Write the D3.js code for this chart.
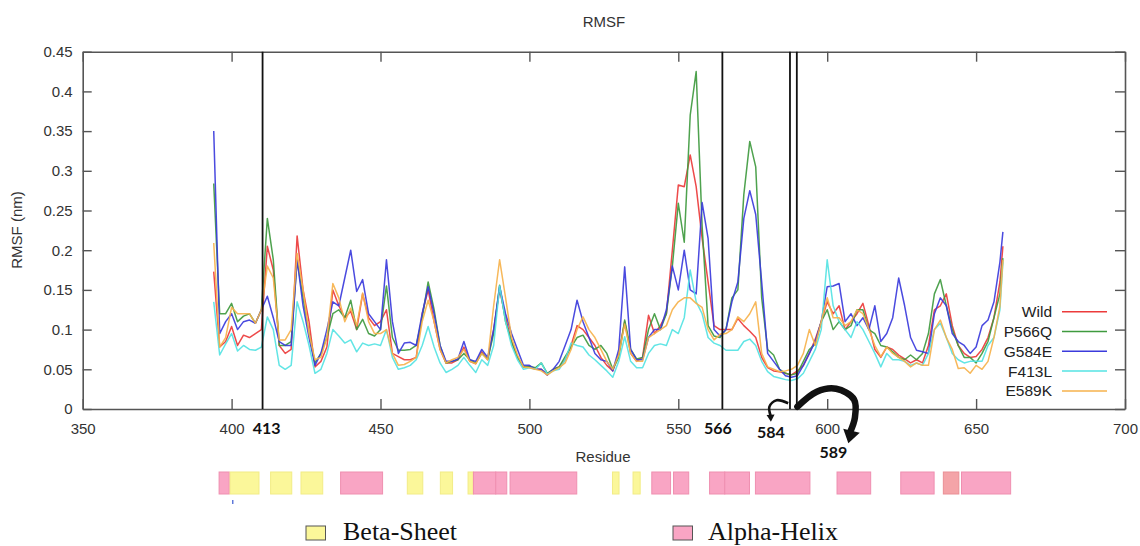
<!DOCTYPE html>
<html>
<head>
<meta charset="utf-8">
<script src="https://cdn.jsdelivr.net/npm/d3@7/dist/d3.min.js"></script>
<style>
  html, body { margin: 0; padding: 0; background: #fff; }
  svg { display: block; }
</style>
</head>
<body>
<svg id="chart" width="1140" height="546"></svg>
<script>
// ---------------- DATA ----------------
const residues = [
  394,396,398,400,402,404,406,408,410,412,
  414,416,418,420,422,424,426,428,430,432,
  434,436,438,440,442,444,446,448,450,452,
  454,456,458,460,462,464,466,468,470,472,
  474,476,478,480,482,484,486,488,490,492,
  494,496,498,500,502,504,506,508,510,512,
  514,516,518,520,522,524,526,528,530,532,
  534,536,538,540,542,544,546,548,550,552,
  554,556,558,560,562,564,566,568,570,572,
  574,576,578,580,582,584,586,588,590,592,
  594,596,598,600,602,604,606,608,610,612,
  614,616,618,620,622,624,626,628,630,632,
  634,636,638,640,642,644,646,648,650,652,
  654,656,658,659];

const seriesNames = ["Wild", "P566Q", "G584E", "F413L", "E589K"];
const seriesColors = ["#ec3b3b", "#3f9a3f", "#3b3bdc", "#55e3e3", "#f6b24c"];

const wild = [
  0.173,0.078,0.085,0.104,0.080,0.093,0.090,0.095,0.100,0.205,
  0.175,0.080,0.070,0.075,0.218,0.150,0.110,0.053,0.060,0.078,
  0.150,0.130,0.115,0.123,0.100,0.145,0.115,0.105,0.110,0.125,
  0.070,0.066,0.062,0.062,0.065,0.120,0.150,0.110,0.075,0.058,
  0.058,0.062,0.078,0.060,0.057,0.072,0.062,0.100,0.150,0.115,
  0.085,0.065,0.053,0.054,0.050,0.050,0.043,0.050,0.053,0.062,
  0.080,0.105,0.100,0.090,0.080,0.065,0.055,0.048,0.070,0.110,
  0.070,0.060,0.065,0.118,0.095,0.105,0.120,0.200,0.282,0.280,
  0.320,0.280,0.215,0.160,0.105,0.100,0.100,0.100,0.114,0.105,
  0.098,0.090,0.065,0.052,0.048,0.047,0.045,0.043,0.048,0.055,
  0.070,0.088,0.110,0.135,0.120,0.130,0.100,0.110,0.120,0.133,
  0.105,0.075,0.065,0.078,0.075,0.068,0.063,0.058,0.062,0.058,
  0.080,0.125,0.130,0.145,0.105,0.080,0.070,0.065,0.066,0.075,
  0.090,0.115,0.160,0.205];

const p566q = [
  0.284,0.120,0.120,0.133,0.110,0.117,0.120,0.108,0.125,0.240,
  0.188,0.080,0.080,0.085,0.188,0.140,0.095,0.058,0.070,0.090,
  0.120,0.125,0.115,0.137,0.100,0.113,0.095,0.092,0.100,0.155,
  0.090,0.074,0.074,0.075,0.080,0.115,0.160,0.125,0.080,0.058,
  0.060,0.062,0.070,0.062,0.058,0.070,0.063,0.095,0.156,0.110,
  0.085,0.065,0.053,0.054,0.052,0.058,0.045,0.050,0.053,0.066,
  0.078,0.090,0.093,0.080,0.075,0.080,0.070,0.050,0.065,0.112,
  0.075,0.063,0.065,0.100,0.120,0.100,0.120,0.180,0.259,0.210,
  0.370,0.425,0.230,0.105,0.092,0.090,0.100,0.140,0.150,0.270,
  0.337,0.305,0.140,0.075,0.068,0.050,0.045,0.043,0.045,0.060,
  0.075,0.082,0.110,0.125,0.100,0.110,0.100,0.105,0.125,0.125,
  0.100,0.095,0.080,0.078,0.072,0.065,0.062,0.068,0.062,0.070,
  0.095,0.145,0.163,0.130,0.100,0.080,0.065,0.065,0.058,0.070,
  0.085,0.115,0.145,0.190];

const g584e = [
  0.350,0.095,0.110,0.120,0.100,0.110,0.112,0.108,0.125,0.142,
  0.115,0.085,0.080,0.080,0.188,0.130,0.090,0.055,0.070,0.100,
  0.135,0.130,0.165,0.200,0.148,0.163,0.120,0.110,0.100,0.188,
  0.110,0.070,0.083,0.084,0.080,0.120,0.154,0.120,0.080,0.060,
  0.060,0.063,0.085,0.062,0.060,0.075,0.065,0.100,0.154,0.120,
  0.095,0.075,0.055,0.055,0.050,0.050,0.043,0.050,0.060,0.080,
  0.100,0.137,0.110,0.090,0.070,0.062,0.060,0.048,0.075,0.179,
  0.075,0.062,0.062,0.090,0.100,0.100,0.125,0.180,0.150,0.200,
  0.150,0.145,0.260,0.215,0.100,0.092,0.100,0.135,0.160,0.240,
  0.275,0.245,0.160,0.070,0.060,0.050,0.042,0.040,0.042,0.055,
  0.070,0.085,0.110,0.154,0.155,0.158,0.110,0.120,0.105,0.115,
  0.100,0.130,0.085,0.095,0.115,0.165,0.130,0.090,0.074,0.072,
  0.070,0.120,0.140,0.130,0.095,0.085,0.080,0.070,0.078,0.105,
  0.112,0.135,0.185,0.223];

const f413l = [
  0.135,0.068,0.082,0.095,0.073,0.080,0.075,0.074,0.078,0.116,
  0.100,0.055,0.050,0.055,0.135,0.110,0.080,0.045,0.050,0.070,
  0.100,0.092,0.083,0.087,0.072,0.083,0.080,0.082,0.080,0.100,
  0.065,0.050,0.052,0.055,0.062,0.080,0.104,0.078,0.058,0.046,
  0.050,0.055,0.065,0.055,0.046,0.062,0.055,0.080,0.155,0.110,
  0.080,0.062,0.050,0.052,0.050,0.058,0.044,0.048,0.050,0.062,
  0.083,0.080,0.078,0.068,0.062,0.055,0.048,0.040,0.060,0.091,
  0.060,0.052,0.052,0.070,0.080,0.082,0.080,0.100,0.095,0.115,
  0.175,0.135,0.120,0.090,0.083,0.080,0.074,0.074,0.074,0.085,
  0.088,0.080,0.060,0.047,0.041,0.039,0.037,0.036,0.038,0.045,
  0.060,0.075,0.100,0.188,0.130,0.110,0.100,0.090,0.110,0.100,
  0.085,0.070,0.053,0.070,0.062,0.062,0.060,0.055,0.058,0.055,
  0.070,0.100,0.108,0.090,0.070,0.062,0.058,0.060,0.060,0.060,
  0.080,0.090,0.125,0.185];

const e589k = [
  0.209,0.078,0.090,0.128,0.120,0.120,0.120,0.108,0.125,0.180,
  0.165,0.087,0.087,0.100,0.196,0.150,0.095,0.062,0.065,0.090,
  0.158,0.140,0.110,0.127,0.105,0.146,0.110,0.095,0.095,0.100,
  0.070,0.055,0.056,0.060,0.065,0.110,0.137,0.110,0.075,0.058,
  0.062,0.065,0.075,0.060,0.057,0.070,0.062,0.130,0.188,0.140,
  0.090,0.068,0.053,0.052,0.050,0.048,0.043,0.048,0.052,0.058,
  0.075,0.100,0.116,0.100,0.090,0.075,0.060,0.050,0.068,0.107,
  0.070,0.060,0.060,0.090,0.095,0.100,0.105,0.125,0.135,0.140,
  0.140,0.133,0.128,0.100,0.087,0.094,0.095,0.100,0.116,0.110,
  0.120,0.135,0.070,0.053,0.050,0.047,0.048,0.050,0.055,0.070,
  0.100,0.080,0.110,0.140,0.115,0.115,0.105,0.110,0.125,0.120,
  0.100,0.080,0.066,0.078,0.070,0.065,0.060,0.053,0.058,0.055,
  0.055,0.100,0.112,0.090,0.075,0.051,0.052,0.045,0.055,0.050,
  0.060,0.090,0.130,0.188];

const xTicks = [350, 400, 450, 500, 550, 600, 650, 700];
const yTicks = [0, 0.05, 0.1, 0.15, 0.2, 0.25, 0.3, 0.35, 0.4, 0.45];
const yTickLabels = ["0", "0.05", "0.1", "0.15", "0.2", "0.25", "0.3", "0.35", "0.4", "0.45"];

// mutation marker lines (residue position as drawn) and their labels
const markerLines = [410.4, 564.8, 587.5, 589.8];
const markerLabels = ["413", "566", "584", "589"];
const markerLabelRes = [411.8, 563.3, 581.1, 602.1];
const markerLabelVal = [-0.0315, -0.0315, -0.0365, -0.0615];

// secondary structure segments [start residue, end residue, type]
const ssStart = [395.8, 399.5, 413.1, 423.3, 436.6, 459.0, 470.1, 479.4, 481.2, 488.7, 493.5, 527.9, 534.8, 541.1, 548.4, 560.5, 565.6, 575.9, 603.3, 624.7, 639.0, 645.1];
const ssEnd   = [399.2, 409.2, 420.2, 430.6, 450.7, 464.2, 474.2, 481.2, 488.7, 492.4, 515.9, 530.1, 537.2, 547.4, 553.5, 565.6, 573.9, 594.2, 614.6, 635.9, 644.2, 661.6];
const ssType  = ["H","E","E","E","H","E","E","E","H","H","H","E","E","H","H","H","H","H","H","H","H2","H"];

// ---------------- DRAW ----------------
const svg = d3.select("#chart");
const x = d3.scaleLinear().domain([350, 700]).range([82.7, 1125]);
const y = d3.scaleLinear().domain([0, 0.45]).range([409, 51.7]);
const FONT = "'Liberation Sans', Arial, sans-serif";
const axisColor = "#555";

// axes (inward ticks)
const gB = svg.append("g").attr("transform", `translate(0,${y(0)})`)
  .call(d3.axisBottom(x).tickValues(xTicks).tickSizeInner(-10).tickSizeOuter(0).tickPadding(14).tickFormat(d3.format("d")));
const gT = svg.append("g").attr("transform", `translate(0,${y(0.45)})`)
  .call(d3.axisTop(x).tickValues(xTicks).tickSizeInner(-10).tickSizeOuter(0).tickFormat(""));
const gL = svg.append("g").attr("transform", `translate(${x(350)},0)`)
  .call(d3.axisLeft(y).tickValues(yTicks).tickSizeInner(-9).tickSizeOuter(0).tickPadding(10)
    .tickFormat((d, i) => yTickLabels[i]));
const gR = svg.append("g").attr("transform", `translate(${x(700)},0)`)
  .call(d3.axisRight(y).tickValues(yTicks).tickSizeInner(-10).tickSizeOuter(0).tickFormat(""));

[gB, gT, gL, gR].forEach(g => {
  g.select(".domain").attr("stroke", axisColor).attr("stroke-width", 1.6);
  g.selectAll(".tick line").attr("stroke", axisColor).attr("stroke-width", 1.4);
  g.selectAll(".tick text").attr("fill", "#333").style("font-family", FONT).style("font-size", "15px");
});

// series lines
const series = [wild, p566q, g584e, f413l, e589k];
const line = d3.line().x(d => x(d[0])).y(d => y(d[1]));
series.forEach((vals, i) => {
  const pts = residues.map((r, k) => [r, vals[k]]);
  svg.append("path").datum(pts)
    .attr("d", line)
    .attr("fill", "none")
    .attr("stroke", seriesColors[i])
    .attr("stroke-width", 1.5)
    .attr("stroke-linejoin", "round")
    .attr("stroke-opacity", 0.92);
});

// marker lines
svg.append("g").selectAll("line").data(markerLines).join("line")
  .attr("x1", d => x(d)).attr("x2", d => x(d))
  .attr("y1", y(0.45)).attr("y2", y(0))
  .attr("stroke", "#111").attr("stroke-width", 1.8);

// marker labels
svg.append("g").selectAll("text").data(markerLabels).join("text")
  .attr("x", (d, i) => x(markerLabelRes[i]))
  .attr("y", (d, i) => y(markerLabelVal[i]))
  .attr("text-anchor", "middle")
  .style("font-family", "Lato, 'Open Sans', sans-serif")
  .style("font-weight", "bold")
  .style("font-size", "16px")
  .attr("fill", "#111")
  .text(d => d);

// curved arrows (in data units)
const smallArrow = [[586.9, 0.0072], [583.0, 0.0110], [580.6, 0.0030], [581.0, -0.0085]];
const bigArrow = [[590.0, 0.0029], [596.5, 0.0218], [603.0, 0.0255], [609.0, 0.0120], [609.3, -0.0110], [607.6, -0.0300]];
const curve = d3.line().x(d => x(d[0])).y(d => y(d[1])).curve(d3.curveCatmullRom);
svg.append("path").datum(smallArrow).attr("d", curve)
  .attr("fill", "none").attr("stroke", "#111").attr("stroke-width", 2.6);
svg.append("path").datum(bigArrow).attr("d", curve)
  .attr("fill", "none").attr("stroke", "#111").attr("stroke-width", 6.5).attr("stroke-linecap", "round");
function head(tip, dir, w, l) {
  const tx = x(tip[0]), ty = y(tip[1]);
  const ang = Math.atan2(dir[1], dir[0]);
  const px = -Math.sin(ang), py = Math.cos(ang);
  const bx = tx - Math.cos(ang) * l, by = ty - Math.sin(ang) * l;
  return `M${tx},${ty}L${bx + px * w},${by + py * w}L${bx - px * w},${by - py * w}Z`;
}
svg.append("path").attr("d", head([581.1, -0.0160], [0.05, 1], 4, 7)).attr("fill", "#111");
svg.append("path").attr("d", head([607.1, -0.0432], [-0.25, 1], 8.5, 13)).attr("fill", "#111");

// axis titles
svg.append("text").attr("x", 604).attr("y", 27).attr("text-anchor", "middle")
  .style("font-family", FONT).style("font-size", "15px").attr("fill", "#333").text("RMSF");
svg.append("text").attr("x", 603).attr("y", 462).attr("text-anchor", "middle")
  .style("font-family", FONT).style("font-size", "15px").attr("fill", "#333").text("Residue");
svg.append("text").attr("transform", "translate(22,230) rotate(-90)").attr("text-anchor", "middle")
  .style("font-family", FONT).style("font-size", "15px").attr("fill", "#333").text("RMSF (nm)");

// series legend
const lg = svg.append("g");
seriesNames.forEach((n, i) => {
  const cy = 311.7 + i * 19.8;
  lg.append("text").attr("x", 1052).attr("y", cy).attr("dy", "0.35em").attr("text-anchor", "end")
    .style("font-family", FONT).style("font-size", "15.5px").attr("fill", "#222").text(n);
  lg.append("line").attr("x1", 1062).attr("x2", 1107).attr("y1", cy).attr("y2", cy)
    .attr("stroke", seriesColors[i]).attr("stroke-width", 1.5);
});

// secondary structure band
const ssFill = { E: "#fbf79a", H: "#f9a5c4", H2: "#f4a4a8" };
const ssStroke = { E: "#f2ec86", H: "#ef8fb0", H2: "#ea8f95" };
svg.append("g").selectAll("rect").data(ssStart).join("rect")
  .attr("x", (d, i) => x(d))
  .attr("width", (d, i) => x(ssEnd[i]) - x(d))
  .attr("y", 472).attr("height", 22)
  .attr("fill", (d, i) => ssFill[ssType[i]])
  .attr("stroke", (d, i) => ssStroke[ssType[i]])
  .attr("stroke-width", 1);
svg.append("line").attr("x1", x(400.4)).attr("x2", x(400.4)).attr("y1", 500).attr("y2", 504)
  .attr("stroke", "#3b5bd0").attr("stroke-width", 1.2);

// secondary structure legend
const sl = [["Beta-Sheet", "#fbf79a", 306, 343], ["Alpha-Helix", "#f9a5c4", 673, 708]];
sl.forEach(s => {
  svg.append("rect").attr("x", s[2]).attr("y", 526).attr("width", 19.5).attr("height", 14)
    .attr("fill", s[1]).attr("stroke", "#555").attr("stroke-width", 1);
  svg.append("text").attr("x", s[3]).attr("y", 540)
    .style("font-family", "'Liberation Serif', 'Times New Roman', serif").style("font-size", "26px")
    .attr("fill", "#111").text(s[0]);
});
</script>
</body>
</html>
